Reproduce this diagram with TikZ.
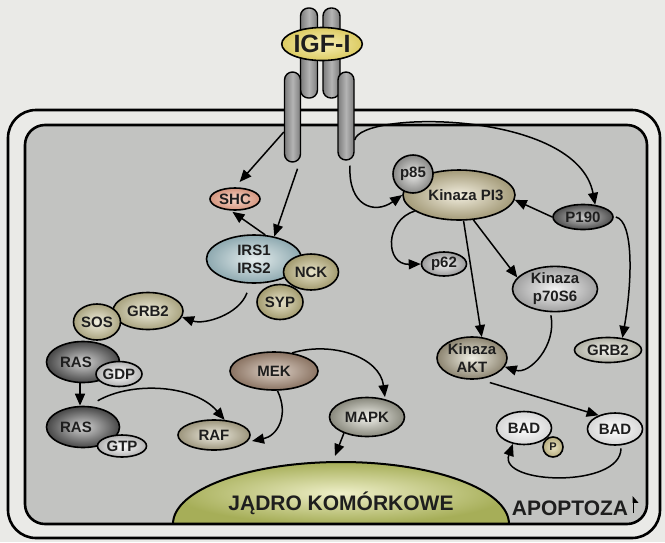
\documentclass[tikz,border=0pt]{standalone}
\usepackage{fontspec}
\setmainfont{Liberation Sans}
\usetikzlibrary{shapes.geometric,arrows.meta}

\definecolor{tlo}{HTML}{EAEAE7}
\definecolor{cyto}{HTML}{C2C3C1}
\definecolor{napis}{HTML}{1E1E1E}
\definecolor{pillD}{HTML}{7C7C7C}
\definecolor{pillL}{HTML}{B4B4B4}
\definecolor{igfD}{HTML}{DCCB62}
\definecolor{igfL}{HTML}{F7F0B8}
\definecolor{jadroD}{HTML}{A6AE58}
\definecolor{jadroL}{HTML}{EEEFC8}
\definecolor{shcD}{HTML}{D4957E}
\definecolor{shcL}{HTML}{F5D6C8}
\definecolor{irsD}{HTML}{8EA9B0}
\definecolor{irsL}{HTML}{E6EEEE}
\definecolor{nckD}{HTML}{A29A6E}
\definecolor{nckL}{HTML}{E8E4CB}
\definecolor{grbD}{HTML}{A8A27E}
\definecolor{grbL}{HTML}{F0EFDF}
\definecolor{rasD}{HTML}{474747}
\definecolor{rasL}{HTML}{D2D2D2}
\definecolor{gdpD}{HTML}{B2B2B2}
\definecolor{gdpL}{HTML}{FFFFFF}
\definecolor{rafD}{HTML}{9C957C}
\definecolor{rafL}{HTML}{EEECE1}
\definecolor{mekD}{HTML}{8A7362}
\definecolor{mekL}{HTML}{DED2C8}
\definecolor{mapkD}{HTML}{88887C}
\definecolor{mapkL}{HTML}{F1F1EB}
\definecolor{p85D}{HTML}{888886}
\definecolor{p85L}{HTML}{E8E8E6}
\definecolor{pi3D}{HTML}{A39A78}
\definecolor{pi3L}{HTML}{F2EEDF}
\definecolor{p190D}{HTML}{4E4E4E}
\definecolor{p190L}{HTML}{CACACA}
\definecolor{p62D}{HTML}{9A9A9A}
\definecolor{p62L}{HTML}{F0F0F0}
\definecolor{p70D}{HTML}{A0A0A0}
\definecolor{p70L}{HTML}{F4F4F4}
\definecolor{aktD}{HTML}{8C8470}
\definecolor{aktL}{HTML}{F0EFE4}
\definecolor{grbbD}{HTML}{B0B0A4}
\definecolor{grbbL}{HTML}{F5F5EF}
\definecolor{badD}{HTML}{D6D6D6}
\definecolor{badL}{HTML}{FFFFFF}
\definecolor{ppD}{HTML}{B6AC7E}
\definecolor{ppL}{HTML}{EAE4C4}

\newcommand{\protfont}{\bfseries\fontsize{15}{18}\selectfont}

\begin{document}
\begin{tikzpicture}[x=1pt,y=1pt]
	\tikzstyle{every node}+=[inner sep=0pt,font=\protfont,text=napis]
	\tikzstyle{mol}=[ellipse,draw=black,line width=1.6pt,align=center]
	\tikzstyle{pill}=[rectangle,rounded corners=8pt,draw=black,line width=1.4pt,left color=pillD,right color=pillD,middle color=pillL]
	\tikzstyle{arr}=[line width=1.5pt,-{Triangle[length=12pt,width=10pt]}]
	\fill [tlo] (0,0) rectangle (665,-542);
	\useasboundingbox (0,0) rectangle (665,-542);
	\draw [line width=2.6pt,rounded corners=28pt,fill=tlo] (8,-110) rectangle (660,-538);
	\fill [cyto,rounded corners=20pt] (25,-125) rectangle (647,-524);
	\shade [inner color=jadroL,outer color=jadroD] (173,-524) arc [start angle=180,end angle=0,x radius=168pt,y radius=62pt] -- cycle;
	\draw [line width=2pt] (173,-524) arc [start angle=180,end angle=0,x radius=168pt,y radius=62pt];
	\draw [line width=2.6pt,rounded corners=20pt] (25,-125) rectangle (647,-524);
	\node [anchor=base,font=\bfseries\fontsize{21}{21}\selectfont] (jadro) at (341,-510) {JĄDRO KOMÓRKOWE};
	\node [anchor=base,font=\bfseries\fontsize{21}{21}\selectfont] (apop) at (570,-515) {APOPTOZA};
	\draw [line width=1.6pt,-{Triangle[right,length=6pt,width=10pt]}] ([xshift=5pt,yshift=2pt]apop.base east) -- ([xshift=5pt,yshift=19pt]apop.base east);
	\node [pill,minimum width=17pt,minimum height=90pt] (alphaL) at (309,-53) {};
	\node [pill,minimum width=17pt,minimum height=90pt] (alphaR) at (331.5,-53) {};
	\node [pill,minimum width=16pt,minimum height=90pt] (betaL) at (292.5,-117) {};
	\node [pill,minimum width=16pt,minimum height=88pt] (betaR) at (346,-116) {};
	\node [mol,inner color=igfL,outer color=igfD,minimum width=69pt,minimum height=33pt,font=\bfseries\fontsize{25}{25}\selectfont] (igf) at (322,-44) {IGF-I};
	\node [mol,inner color=shcL,outer color=shcD,minimum width=50pt,minimum height=22pt] (shc) at (235,-199) {SHC};
	\node [mol,inner color=irsL,outer color=irsD,minimum width=95pt,minimum height=48pt] (irs) at (254,-259) {IRS1\\IRS2};
	\node [mol,inner color=nckL,outer color=nckD,minimum width=55pt,minimum height=36pt] (nck) at (311,-272) {NCK};
	\node [mol,inner color=nckL,outer color=nckD,minimum width=46pt,minimum height=35pt] (syp) at (280,-302) {SYP};
	\node [mol,inner color=grbL,outer color=grbD,minimum width=70pt,minimum height=37pt] (grb2a) at (148,-311) {GRB2};
	\node [mol,inner color=rasL,outer color=rasD,minimum width=73pt,minimum height=41pt] (rasa) at (83,-362) {RAS\hspace*{14pt}};
	\node [mol,inner color=grbL,outer color=grbD,minimum width=47pt,minimum height=36pt] (sos) at (97,-322) {SOS};
	\node [mol,inner color=gdpL,outer color=gdpD,minimum width=45pt,minimum height=25pt] (gdp) at (119,-374) {GDP};
	\node [mol,inner color=rasL,outer color=rasD,minimum width=73pt,minimum height=41pt] (rasb) at (83,-427) {RAS\hspace*{14pt}};
	\node [mol,inner color=gdpL,outer color=gdpD,minimum width=49pt,minimum height=22pt] (gtp) at (122,-446) {GTP};
	\node [mol,inner color=rafL,outer color=rafD,minimum width=72pt,minimum height=30pt] (raf) at (214,-435) {RAF};
	\node [mol,inner color=mekL,outer color=mekD,minimum width=88pt,minimum height=38pt] (mek) at (274,-371) {MEK};
	\node [mol,inner color=mapkL,outer color=mapkD,minimum width=75pt,minimum height=39pt] (mapk) at (367,-417) {MAPK};
	\node [mol,inner color=pi3L,outer color=pi3D,minimum width=112pt,minimum height=50pt,inner xsep=-12pt] (pi3) at (459,-195) {\hspace*{14pt}Kinaza PI3};
	\node [mol,inner color=p85L,outer color=p85D,minimum width=40pt,minimum height=38pt] (p85) at (413,-174) {p85};
	\node [mol,inner color=p190L,outer color=p190D,minimum width=60pt,minimum height=25pt] (p190) at (583,-217) {P190};
	\node [mol,inner color=p62L,outer color=p62D,minimum width=45pt,minimum height=24pt] (p62) at (444,-264) {p62};
	\node [mol,inner color=p70L,outer color=p70D,minimum width=85pt,minimum height=42pt] (p70) at (555,-289) {Kinaza\\p70S6};
	\node [mol,inner color=aktL,outer color=aktD,minimum width=70pt,minimum height=42pt] (akt) at (472,-358) {Kinaza\\AKT};
	\node [mol,inner color=grbbL,outer color=grbbD,minimum width=67pt,minimum height=25pt] (grb2b) at (608,-350) {GRB2};
	\node [mol,inner color=badL,outer color=badD,minimum width=55pt,minimum height=33pt] (badl) at (524,-428) {BAD};
	\node [mol,circle,inner color=ppL,outer color=ppD,minimum size=20pt,font=\bfseries\fontsize{11}{11}\selectfont] (pp) at (553,-447) {P};
	\node [mol,inner color=badL,outer color=badD,minimum width=55pt,minimum height=32pt] (badr) at (615,-429) {BAD};
	\coordinate (jadroTop) at (335,-456);
	\draw [arr,shorten >=7pt] ([yshift=-15pt]betaL.west) -- (shc.north);
	\draw [arr] ([shift={(5pt,-6pt)}]betaL.south) -- (irs.48);
	\draw [arr,shorten >=2pt] (irs.65) -- (shc.-110);
	\draw [arr] ([shift={(-7pt,-9pt)}]irs.south) .. controls +(-8,-22) and +(22,-8) .. (grb2a.-10);
	\draw [arr] ([xshift=-3pt]rasa.south) -- ([xshift=-3pt]rasb.north);
	\draw [arr] ([shift={(3pt,6pt)}]rasb.60) .. controls +(35,20) and +(-30,35) .. (raf.55);
	\draw [arr] (mek.-80) .. controls +(12,-25) and +(25,5) .. ([xshift=4pt]raf.-10);
	\draw [arr] (mek.45) .. controls +(40,12) and +(-5,40) .. ([yshift=2pt]mapk.45);
	\draw [arr] (mapk.-145) -- (jadroTop);
	\draw [arr] ([yshift=-24pt]betaR.east) .. controls +(6,30) and +(-18,95) .. (p190.45);
	\draw [arr] ([shift={(4pt,-5pt)}]betaR.south) .. controls +(-2,-40) and +(-28,-20) .. (pi3.west);
	\draw [arr] (p190.west) -- (pi3.-5);
	\draw [arr] ([xshift=2pt]p190.east) .. controls +(18,-4) and +(10,57) .. (grb2b.40);
	\draw [arr] (pi3.-160) .. controls +(-30,-9) and +(-36,-1) .. (p62.west);
	\draw [arr] (pi3.-80) -- (akt.65);
	\draw [arr] (pi3.-60) -- (p70.163);
	\draw [arr] ([yshift=-3pt]p70.-100) .. controls +(6,-30) and +(25,-8) .. (akt.-15);
	\draw [arr] ([shift={(6pt,-4pt)}]akt.-60) -- (badr.140);
	\draw [arr] ([yshift=-3pt]badr.-70) .. controls +(0,-40) and +(-15,-41) .. (badl.-125);
\end{tikzpicture}
\end{document}
